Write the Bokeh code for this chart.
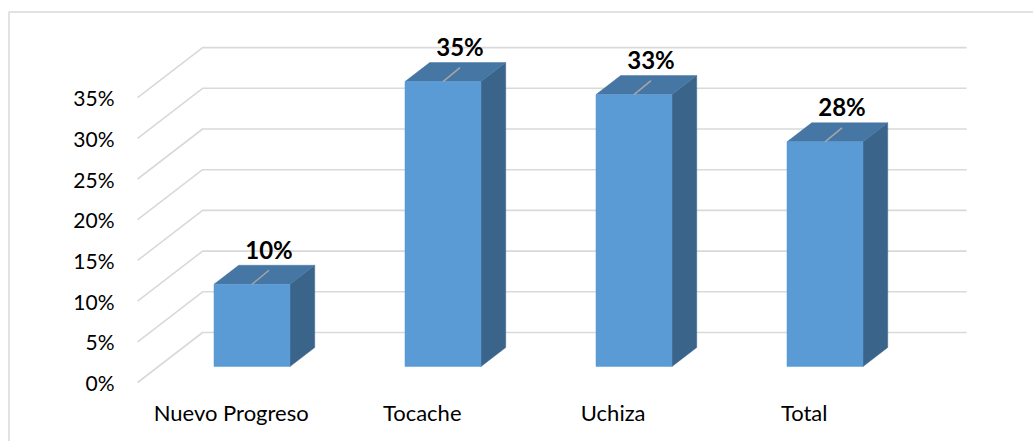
import numpy as np
from bokeh.plotting import figure
from bokeh.models import Range1d, ColumnDataSource
from bokeh.core.properties import value
from bokeh.embed import file_html
from bokeh.resources import INLINE

# ---- data ----
categories = ["Nuevo Progreso", "Tocache", "Uchiza", "Total"]
percent_values = [10.1, 35.0, 33.4, 27.6]
value_labels = ["10%", "35%", "33%", "28%"]
tick_values = [0, 5, 10, 15, 20, 25, 30, 35]
tick_labels = ["0%", "5%", "10%", "15%", "20%", "25%", "30%", "35%"]

# ---- layout / style ----
W, H = 1033, 441
PX_X = 191.0      # pixels per category step
PX_Y = 8.14       # pixels per percent
X0_PX = 230.7     # pixel of x=0
Y0_PX = 382.0     # pixel of y=0 (front floor)
DEPTH_X = 65.0 / PX_X
DEPTH_Y = 50.0 / PX_Y
WALL_L, WALL_R = -0.49, 3.51
BAR_HALF = 0.199
Z_FRONT, Z_BACK = 0.32, 0.70

FRONT = "#5B9BD5"
TOP = "#4676A3"
SIDE = "#3A648A"
GRID = "#D9D9D9"
FONT = "Lato"

x_range = Range1d(-X0_PX / PX_X, (W - X0_PX) / PX_X)
y_range = Range1d(-(H - Y0_PX) / PX_Y, Y0_PX / PX_Y)

p = figure(width=W, height=H, x_range=x_range, y_range=y_range,
           output_backend="svg", toolbar_location=None,
           min_border=0, min_border_left=0, min_border_right=0,
           min_border_top=0, min_border_bottom=0)
p.axis.visible = False
p.grid.visible = False
p.outline_line_color = None
p.background_fill_color = "white"
p.border_fill_color = "white"


def proj(X, Z, V):
    return X + DEPTH_X * Z, V + DEPTH_Y * Z


# chart-area border (left and top edges)
bx = x_range.start + 8.5 / PX_X
by = y_range.end - 11.5 / PX_Y
p.line([bx, bx, x_range.end], [y_range.start, by, by], line_color=GRID, line_width=1.5)

# gridlines: back wall + left wall diagonals
gx, gy = [], []
for v in tick_values:
    a = proj(WALL_L, 0, v)
    b = proj(WALL_L, 1, v)
    c = proj(WALL_R, 1, v)
    gx.append([a[0], b[0], c[0]])
    gy.append([a[1], b[1], c[1]])
p.multi_line(gx, gy, line_color=GRID, line_width=1.6)

# y tick labels
lab_x = [proj(WALL_L, 0, v)[0] - 0.121 for v in tick_values]
lab_y = [proj(WALL_L, 0, v)[1] for v in tick_values]
p.text(x=lab_x, y=lab_y, text=tick_labels, text_align="right", text_baseline="middle",
       text_font=value(FONT), text_font_size="21px", text_color="#000000")

# bars
fx, fy, tx, ty, sx, sy = [], [], [], [], [], []
for i, v in enumerate(percent_values):
    x0, x1 = i - BAR_HALF, i + BAR_HALF
    pts = [proj(x0, Z_FRONT, 0), proj(x1, Z_FRONT, 0), proj(x1, Z_FRONT, v), proj(x0, Z_FRONT, v)]
    fx.append([q[0] for q in pts]); fy.append([q[1] for q in pts])
    pts = [proj(x0, Z_FRONT, v), proj(x1, Z_FRONT, v), proj(x1, Z_BACK, v), proj(x0, Z_BACK, v)]
    tx.append([q[0] for q in pts]); ty.append([q[1] for q in pts])
    pts = [proj(x1, Z_FRONT, 0), proj(x1, Z_BACK, 0), proj(x1, Z_BACK, v), proj(x1, Z_FRONT, v)]
    sx.append([q[0] for q in pts]); sy.append([q[1] for q in pts])

p.patches(sx, sy, fill_color=SIDE, line_color=SIDE, line_width=0.5)
p.patches(tx, ty, fill_color=TOP, line_color=TOP, line_width=0.5)
p.patches(fx, fy, fill_color=FRONT, line_color=FRONT, line_width=0.5)

# leader lines and value labels
lx, ly, vx, vy = [], [], [], []
for i, v in enumerate(percent_values):
    cx, cy = proj(i, Z_FRONT, v)
    lx.append([cx, cx + 17 / PX_X]); ly.append([cy, cy + 14 / PX_Y])
    vx.append(cx + 17 / PX_X); vy.append(cy + 35 / PX_Y)
p.multi_line(lx, ly, line_color="#A6A6A6", line_width=1.5)
p.text(x=vx, y=vy, text=value_labels, text_align="center", text_baseline="middle",
       text_font=value(FONT), text_font_style="bold", text_font_size="24px", text_color="#000000")

# category labels
cat_x = [proj(i, 0, 0)[0] for i in range(len(categories))]
cat_y = [proj(i, 0, 0)[1] - 30 / PX_Y for i in range(len(categories))]
p.text(x=cat_x, y=cat_y, text=categories, text_align="center", text_baseline="middle",
       text_font=value(FONT), text_font_size="22px", text_color="#000000")

open("out.html", "w").write(file_html(p, INLINE))
